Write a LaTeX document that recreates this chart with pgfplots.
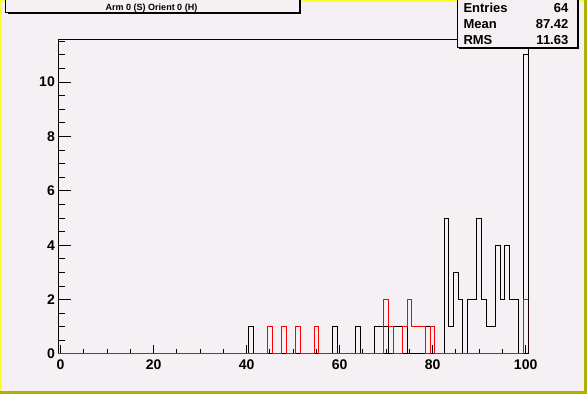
\documentclass[border=0pt]{standalone}
\usepackage{pgfplots}
\pgfplotsset{compat=1.18}
\usepackage{pgfplotstable}
\usepackage{fontspec}
\setmainfont{Liberation Sans}
\definecolor{rootbg}{RGB}{244,240,244}
\definecolor{rootyellow}{RGB}{255,255,40}
\definecolor{rootolive}{RGB}{176,176,0}
\definecolor{rootred}{RGB}{255,0,0}

% black histogram: lo = lower bin edge, n = entries (bins of width 1 centred on integers)
\pgfplotstableread{
lo n
-0.5 0
40.5 1
41.5 0
58.5 1
59.5 0
63.5 1
64.5 0
67.5 1
68.5 1
69.5 1
70.5 0
71.5 1
72.5 1
73.5 1
74.5 0
78.5 1
79.5 0
82.5 5
83.5 1
84.5 3
85.5 2
86.5 0
87.5 2
88.5 2
89.5 5
90.5 2
91.5 1
92.5 1
93.5 4
94.5 2
95.5 4
96.5 2
97.5 2
98.5 0
99.5 11
100.5 0
}\blackhist

% red histogram
\pgfplotstableread{
lo n
-0.5 0
44.5 1
45.5 0
47.5 1
48.5 0
50.5 1
51.5 0
54.5 1
55.5 0
69.5 2
70.5 1
71.5 0
73.5 1
74.5 2
75.5 1
76.5 1
77.5 1
78.5 0
79.5 1
80.5 0
99.5 2
100.5 0
}\redhist

\begin{document}
\begin{tikzpicture}[x=1pt,y=1pt]
\useasboundingbox (0,0) rectangle (587,394);
\fill[rootbg] (0,0) rectangle (587,394);
% canvas border
\fill[rootyellow] (0,391.5) rectangle (584,394);
\fill[rootyellow] (0,3) rectangle (2.3,394);
\fill[rootolive] (0,0) rectangle (587,3);
\fill[rootolive] (584,0) rectangle (587,394);

% x-axis ticks and labels
\begin{axis}[
  at={(58.3pt,40pt)}, anchor=south west,
  scale only axis, width=469.7pt, height=314pt,
  xmin=-0.5, xmax=100.5, ymin=0, ymax=11.55,
  axis line style={line width=1pt, black},
  xtick={0,20,...,100},
  minor xtick={5,10,...,95},
  ytick=\empty,
  xtick pos=bottom,
  tick align=inside,
  major tick length=9pt, minor tick length=5pt,
  tick style={black, line width=1pt},
  /pgf/number format/assume math mode=true,
  xticklabel={\fontsize{14}{15}\selectfont\bfseries\pgfmathprintnumber{\tick}},
  xticklabel style={inner sep=0pt, yshift=-6pt},
]
\end{axis}

% histograms and y ticks
\begin{axis}[
  at={(58.3pt,40pt)}, anchor=south west,
  scale only axis, width=469.7pt, height=314pt,
  xmin=-0.5, xmax=100.5, ymin=0, ymax=11.55,
  axis line style={line width=1pt, black},
  xtick=\empty,
  ytick={0,2,...,10},
  minor ytick={0.5,1,...,11.5},
  ytick pos=left,
  tick align=inside,
  major tick length=13pt, minor tick length=6.3pt,
  tick style={black, line width=1pt},
  /pgf/number format/assume math mode=true,
  yticklabel={\fontsize{14}{15}\selectfont\bfseries\pgfmathprintnumber{\tick}},
  yticklabel style={inner sep=0pt, xshift=-3.3pt},
]
\addplot[const plot mark left, black, line width=1pt, mark=none] table[x=lo, y=n] {\blackhist};
\addplot[const plot mark left, rootred, line width=1pt, mark=none] table[x=lo, y=n] {\redhist};
\end{axis}

% title box
\fill[black] (7.7,379.5) rectangle (301,381.5);
\fill[black] (299,379.5) rectangle (301,396);
\filldraw[fill=rootbg, draw=black, line width=1pt] (5.7,381.2) rectangle (299,396);
\node[anchor=base, font=\fontsize{9}{10}\selectfont\bfseries, inner sep=0pt] at (151.5,383) {Arm 0 (S) Orient 0 (H)};

% stats box
\fill[black] (459.3,345) rectangle (579.3,347);
\fill[black] (577.3,345) rectangle (579.3,396);
\filldraw[fill=rootbg, draw=black, line width=1pt] (457.3,346.7) rectangle (577.3,396);
\begin{scope}[every node/.style={font=\fontsize{13}{14}\selectfont\bfseries, inner sep=0pt}]
\node[anchor=base west] at (463.3,381.7) {Entries};
\node[anchor=base east] at (568.5,381.7) {64};
\node[anchor=base west] at (463.3,365.5) {Mean};
\node[anchor=base east] at (568.5,365.5) {87.42};
\node[anchor=base west] at (463.3,349.2) {RMS};
\node[anchor=base east] at (568.5,349.2) {11.63};
\end{scope}
\end{tikzpicture}
\end{document}
